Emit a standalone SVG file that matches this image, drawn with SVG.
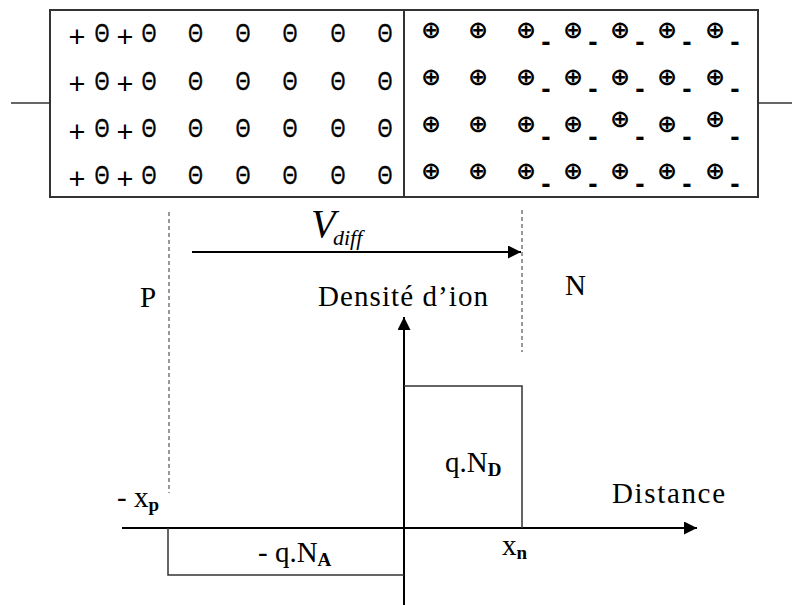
<svg xmlns="http://www.w3.org/2000/svg" width="792" height="605" viewBox="0 0 792 605">
<style>
  .ln{stroke:#333;stroke-width:2;fill:none}
  .thin{stroke:#333;stroke-width:1.5;fill:none}
  .dash{stroke:#555;stroke-width:1.2;stroke-dasharray:4 3;fill:none}
  .ax{stroke:#000;stroke-width:2;fill:none}
  .th{font-family:"Liberation Sans",Arial,sans-serif;font-size:26px;fill:#000;stroke:#000;stroke-width:0.6;text-anchor:middle}
  .pl{font-family:"Liberation Sans",Arial,sans-serif;font-size:29px;fill:#000;text-anchor:middle}
  .nrow{text-anchor:middle;fill:#000}
  .op{font-family:"DejaVu Sans",sans-serif;font-weight:bold;font-size:24px}
  .mi{font-family:"Liberation Sans",Arial,sans-serif;font-weight:bold;font-size:28px}
  .tx{font-family:"Liberation Serif","Times New Roman",serif;font-size:29px;fill:#000}
  .sb{font-family:"Liberation Serif","Times New Roman",serif;font-size:19px;font-weight:bold;fill:#000}
  .it{font-family:"Liberation Serif","Times New Roman",serif;font-style:italic;fill:#000}
</style>
<defs>
  <marker id="ah" viewBox="0 0 10 10" refX="10" refY="5" markerWidth="7.5" markerHeight="6.5" markerUnits="strokeWidth" orient="auto">
    <path d="M0,0 L10,5 L0,10 z" fill="#000"/>
  </marker>
</defs>

<g id="diode">
  <rect x="50" y="10" width="708" height="187" class="ln"/>
  <line x1="404" y1="10" x2="404" y2="197" class="ln"/>
  <line x1="11" y1="103" x2="50" y2="103" class="thin"/>
  <line x1="758" y1="103" x2="792" y2="103" class="thin"/>
</g>

<g id="p-ions">
  <g id="p-plus">
    <text class="pl" x="77" y="47">+</text><text class="pl" x="125" y="47">+</text>
    <text class="pl" x="77" y="94.3">+</text><text class="pl" x="125" y="94.3">+</text>
    <text class="pl" x="77" y="141.6">+</text><text class="pl" x="125" y="141.6">+</text>
    <text class="pl" x="77" y="188.9">+</text><text class="pl" x="125" y="188.9">+</text>
  </g>
  <g id="p-acceptors" transform="scale(0.72,1)">
    <text class="th" x="141.7" y="42.5">Θ</text><text class="th" x="207" y="42.5">Θ</text>
    <text class="th" x="271.5 337.5 402.8 469.4 534.7" y="42.5">ΘΘΘΘΘ</text>
    <text class="th" x="141.7" y="89.8">Θ</text><text class="th" x="207" y="89.8">Θ</text>
    <text class="th" x="271.5 337.5 402.8 469.4 534.7" y="89.8">ΘΘΘΘΘ</text>
    <text class="th" x="141.7" y="137.1">Θ</text><text class="th" x="207" y="137.1">Θ</text>
    <text class="th" x="271.5 337.5 402.8 469.4 534.7" y="137.1">ΘΘΘΘΘ</text>
    <text class="th" x="141.7" y="184.4">Θ</text><text class="th" x="207" y="184.4">Θ</text>
    <text class="th" x="271.5 337.5 402.8 469.4 534.7" y="184.4">ΘΘΘΘΘ</text>
  </g>
</g>

<g id="n-ions">
  <text class="nrow"><tspan class="op" x="431 478 526" y="37.5">⊕⊕⊕</tspan><tspan class="mi" x="546" y="51">-</tspan><tspan class="op" x="573" y="37.5">⊕</tspan><tspan class="mi" x="593" y="51">-</tspan><tspan class="op" x="620" y="37.5">⊕</tspan><tspan class="mi" x="640" y="51">-</tspan><tspan class="op" x="667" y="37.5">⊕</tspan><tspan class="mi" x="687" y="51">-</tspan><tspan class="op" x="715" y="37.5">⊕</tspan><tspan class="mi" x="735" y="51">-</tspan></text>
  <text class="nrow"><tspan class="op" x="431 478 526" y="84.8">⊕⊕⊕</tspan><tspan class="mi" x="546" y="98.3">-</tspan><tspan class="op" x="573" y="84.8">⊕</tspan><tspan class="mi" x="593" y="98.3">-</tspan><tspan class="op" x="620" y="84.8">⊕</tspan><tspan class="mi" x="640" y="98.3">-</tspan><tspan class="op" x="667" y="84.8">⊕</tspan><tspan class="mi" x="687" y="98.3">-</tspan><tspan class="op" x="715" y="84.8">⊕</tspan><tspan class="mi" x="735" y="98.3">-</tspan></text>
  <text class="nrow"><tspan class="op" x="431 478 526" y="132.1">⊕⊕⊕</tspan><tspan class="mi" x="546" y="145.6">-</tspan><tspan class="op" x="573" y="132.1">⊕</tspan><tspan class="mi" x="593" y="145.6">-</tspan><tspan class="op" x="620" y="127.1">⊕</tspan><tspan class="mi" x="640" y="145.6">-</tspan><tspan class="op" x="667" y="132.1">⊕</tspan><tspan class="mi" x="687" y="145.6">-</tspan><tspan class="op" x="715" y="127.1">⊕</tspan><tspan class="mi" x="735" y="145.6">-</tspan></text>
  <text class="nrow"><tspan class="op" x="431 478 526" y="179.4">⊕⊕⊕</tspan><tspan class="mi" x="546" y="192.9">-</tspan><tspan class="op" x="573" y="179.4">⊕</tspan><tspan class="mi" x="593" y="192.9">-</tspan><tspan class="op" x="620" y="179.4">⊕</tspan><tspan class="mi" x="640" y="192.9">-</tspan><tspan class="op" x="667" y="179.4">⊕</tspan><tspan class="mi" x="687" y="192.9">-</tspan><tspan class="op" x="715" y="179.4">⊕</tspan><tspan class="mi" x="735" y="192.9">-</tspan></text>
</g>

<g id="boundaries">
  <line x1="169" y1="212" x2="169" y2="493" class="dash"/>
  <line x1="522" y1="210" x2="522" y2="352" class="dash"/>
</g>

<g id="labels">
  <text class="tx" x="140" y="307">P</text>
  <text class="tx" x="565" y="295">N</text>
  <text class="tx" x="318" y="306" textLength="170" lengthAdjust="spacing">Densité d’ion</text>
  <text class="it" x="311" y="237" font-size="40">V</text>
  <text class="it" x="333" y="245" font-size="22">diff</text>
</g>

<g id="connectors">
  <line x1="192" y1="252" x2="521" y2="252" class="ax" marker-end="url(#ah)"/>
  <line x1="404" y1="605" x2="404" y2="317" class="ax" marker-end="url(#ah)"/>
  <line x1="122" y1="528" x2="697" y2="528" class="ax" marker-end="url(#ah)"/>
</g>

<g id="density">
  <polyline points="404,386 522,386 522,528" class="thin"/>
  <polyline points="168,528 168,575 404,575" class="thin"/>
  <text class="tx" x="445" y="472">q.N<tspan class="sb" dy="4">D</tspan></text>
  <text class="tx" x="258" y="562">- q.N<tspan class="sb" dy="4">A</tspan></text>
  <text class="tx" x="502" y="555">x<tspan class="sb" dy="4">n</tspan></text>
  <text class="tx" x="117" y="507">- x<tspan class="sb" dy="4">p</tspan></text>
  <text class="tx" x="612" y="503" textLength="113" lengthAdjust="spacing">Distance</text>
</g>
</svg>
